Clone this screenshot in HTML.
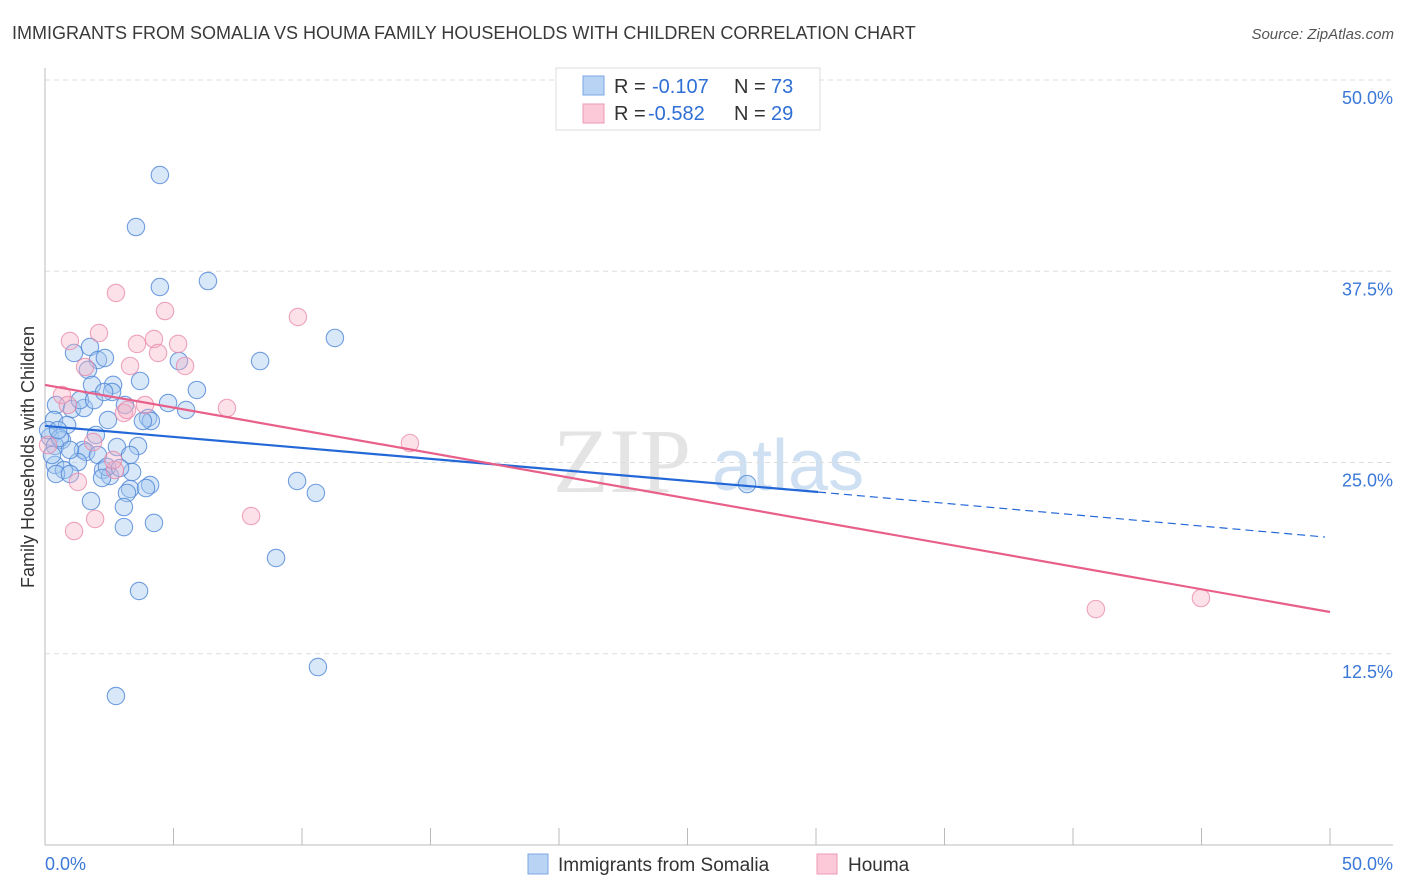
<!DOCTYPE html>
<html><head><meta charset="utf-8"><style>
body{margin:0;background:#fff;font-family:"Liberation Sans",sans-serif}
</style></head><body>
<svg id="chart" width="1406" height="892" xmlns="http://www.w3.org/2000/svg" style="display:block">
<text x="12" y="39" font-size="18" fill="#3a3a3a">IMMIGRANTS FROM SOMALIA VS HOUMA FAMILY HOUSEHOLDS WITH CHILDREN CORRELATION CHART</text>
<text x="1394" y="39" font-size="15" fill="#555" text-anchor="end" font-style="italic">Source: ZipAtlas.com</text>
<g>
<text x="553" y="492" font-size="92" font-family="Liberation Serif,serif" fill="#e4e4e4">ZIP</text>
<text x="712" y="490" font-size="72" fill="#cfe0f3">atlas</text>
</g>
<g id="grid"></g>
<g id="axes"></g>
<g id="marks"></g>
<text transform="translate(34,457) rotate(-90)" font-size="18" fill="#333" text-anchor="middle">Family Households with Children</text>
<g>
<rect x="556" y="68" width="264" height="62" fill="#fff" stroke="#ddd"/>
<rect x="583" y="76" width="21" height="19" fill="#b9d3f5" stroke="#7aa7e6"/>
<rect x="583" y="104" width="21" height="19" fill="#fbc9d8" stroke="#ee9ab4"/>
<text x="614" y="93" font-size="20" fill="#333">R = </text><text x="652" y="93" font-size="20" fill="#2f6fd6">-0.107</text>
<text x="734" y="93" font-size="20" fill="#333">N = </text><text x="771" y="93" font-size="20" fill="#2f6fd6">73</text>
<text x="614" y="120" font-size="20" fill="#333">R = </text><text x="648" y="120" font-size="20" fill="#2f6fd6">-0.582</text>
<text x="734" y="120" font-size="20" fill="#333">N = </text><text x="771" y="120" font-size="20" fill="#2f6fd6">29</text>
</g>
<g>
<rect x="528" y="854" width="20" height="20" fill="#b9d3f5" stroke="#7aa7e6"/>
<text x="558" y="871" font-size="19" fill="#333">Immigrants from Somalia</text>
<rect x="817" y="854" width="20" height="20" fill="#fbc9d8" stroke="#ee9ab4"/>
<text x="848" y="871" font-size="19" fill="#333">Houma</text>
</g>
</svg>
<script>
const yTicks=[50,37.5,25,12.5];
const yTickLabels=["50.0%","37.5%","25.0%","12.5%"];
const xTickLabels=["0.0%","50.0%"];
const somaliaX=[4.47,3.54,4.47,6.34,11.28,8.37,5.21,5.91,1.13,1.75,2.06,2.33,1.67,2.65,1.83,3.70,2.61,0.43,1.05,1.52,1.36,3.11,4.79,5.49,4.01,4.12,3.81,2.45,0.35,0.86,1.98,0.19,0.66,0.39,1.48,1.60,2.80,3.62,3.31,2.06,1.28,0.39,0.74,0.43,0.97,2.26,2.53,3.39,3.31,3.19,4.09,3.93,1.79,3.07,3.07,4.24,9.81,10.54,8.99,3.66,10.62,2.76,27.32,0.12,0.58,2.41,0.97,0.27,2.22,2.92,0.51,1.91,2.30];
const somaliaY=[43.79,40.39,36.47,36.86,33.14,31.63,31.63,29.74,32.16,32.55,31.70,31.83,31.05,30.07,30.07,30.33,29.61,28.76,28.50,28.56,29.08,28.76,28.89,28.43,27.91,27.71,27.71,27.78,27.78,27.45,26.80,26.67,26.47,26.08,25.82,25.69,26.01,26.08,25.49,25.49,25.03,24.84,24.51,24.25,24.25,24.51,24.12,24.38,23.27,23.01,23.53,23.33,22.48,22.09,20.78,21.05,23.79,23.01,18.76,16.60,11.63,9.74,23.59,27.12,26.60,24.71,25.82,25.49,23.99,24.64,27.12,29.08,29.61];
const houmaX=[2.76,4.67,9.84,2.10,0.97,4.24,3.58,5.18,4.40,5.45,3.31,1.56,0.66,0.89,3.89,3.07,3.19,7.08,14.20,1.87,0.12,1.28,2.72,2.65,8.02,1.95,1.13,40.89,44.98];
const houmaY=[36.08,34.90,34.51,33.46,32.94,33.07,32.75,32.75,32.16,31.31,31.31,31.24,29.41,28.76,28.76,28.24,28.43,28.56,26.27,26.34,26.14,23.73,24.51,25.16,21.50,21.31,20.52,15.42,16.14];
const somaliaTrend=[[0,27.39],[30.08,23.07],[49.8,20.13]];
const houmaTrend=[[0,30.07],[50,15.23]];

const NS="http://www.w3.org/2000/svg";
const X0=45,X1=1330,Y0=845,Y50=80;
const sx=v=>X0+(X1-X0)*v/50;
const sy=v=>Y0-(Y0-Y50)*v/50;
function mk(tag,attrs,parent){const e=document.createElementNS(NS,tag);for(const k in attrs)e.setAttribute(k,attrs[k]);parent.appendChild(e);return e;}
const grid=document.getElementById('grid'),axes=document.getElementById('axes'),marks=document.getElementById('marks');
yTicks.forEach((t,i)=>{
  const l=mk('line',{x1:45,x2:1393,y1:sy(t),y2:sy(t),stroke:'#ddd','stroke-dasharray':'5,4'},grid);
  
  
  const tx=mk('text',{x:1393,y:sy(t)+24,'font-size':18,fill:'#3b78d8','text-anchor':'end'},axes);
  tx.textContent=yTickLabels[i];
  
  
});
const ax=mk('line',{x1:45,x2:1393,y1:Y0,y2:Y0,stroke:'#bbb'},axes);


const ay=mk('line',{x1:45,x2:45,y1:68,y2:Y0,stroke:'#bbb'},axes);


for(let i=0;i<=10;i++){
  const tk=mk('line',{x1:sx(i*5),x2:sx(i*5),y1:828,y2:Y0,stroke:'#bbb'},axes);
  
  
}
[[0,'start',45],[50,'end',1393]].forEach((p,i)=>{
  const tx=mk('text',{x:p[2],y:870,'font-size':18,fill:'#3b78d8','text-anchor':p[1]},axes);
  tx.textContent=xTickLabels[i];
  
  
});
function pts(xs,ys,fill,stroke,name){
  xs.forEach((x,i)=>{
    const c=mk('circle',{cx:sx(x),cy:sy(ys[i]),r:8.7,fill:fill,stroke:stroke,'stroke-width':1.1},marks);
    
    
  });
}
pts(somaliaX,somaliaY,'rgba(165,199,240,0.42)','rgba(80,135,215,0.8)','somalia-point');
pts(houmaX,houmaY,'rgba(246,176,198,0.38)','rgba(232,135,168,0.75)','houma-point');
const b1=mk('line',{x1:sx(somaliaTrend[0][0]),y1:sy(somaliaTrend[0][1]),x2:sx(somaliaTrend[1][0]),y2:sy(somaliaTrend[1][1]),stroke:'#2468d8','stroke-width':2.2},marks);


const b2=mk('line',{x1:sx(somaliaTrend[1][0]),y1:sy(somaliaTrend[1][1]),x2:sx(somaliaTrend[2][0]),y2:sy(somaliaTrend[2][1]),stroke:'#2468d8','stroke-width':1.2,'stroke-dasharray':'8,5'},marks);


const p1=mk('line',{x1:sx(houmaTrend[0][0]),y1:sy(houmaTrend[0][1]),x2:sx(houmaTrend[1][0]),y2:sy(houmaTrend[1][1]),stroke:'#e8608a','stroke-width':2.2},marks);


</script>
</body></html>
